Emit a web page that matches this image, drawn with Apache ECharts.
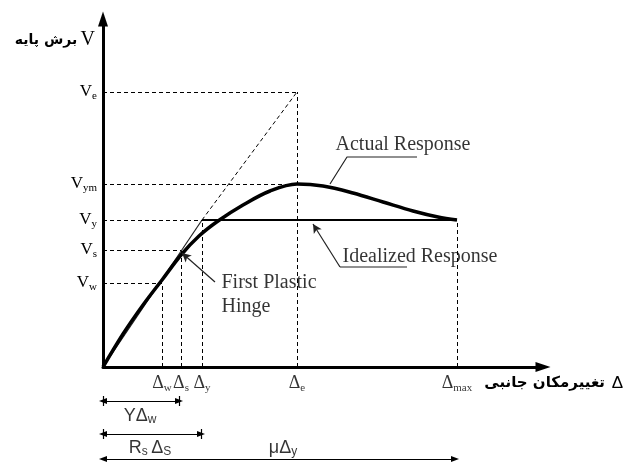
<!DOCTYPE html>
<html>
<head>
<meta charset="utf-8">
<title>pushover curve</title>
<script src="https://cdn.jsdelivr.net/npm/echarts@6/dist/echarts.min.js"></script>
<style>
  html, body { margin: 0; padding: 0; background: #fff; }
  #chart { width: 629px; height: 463px; }
</style>
</head>
<body>
<div id="chart"></div>
<script>
// actual response (capacity curve), drift vs base shear, arbitrary units
const curveX = [0, 20, 40, 59, 78, 96, 115, 140, 167, 194, 220, 250, 280, 310, 335, 354];
const curveY = [0, 33, 62, 87, 112, 131, 146, 162, 176, 183, 181, 174, 165, 156, 150, 147];

// bilinear idealization
const idealX = [0, 99, 354];
const idealY = [0, 147, 147];

// elastic extension (dashed) up to Ve
const elasticX = [99, 194];
const elasticY = [147, 275];

// tick labels
const vTicks = [84, 117, 147, 183, 275];
const vSubs = ['w', 's', 'y', 'ym', 'e'];
const vGuideEnd = [59, 78, 99, 194, 194];   // where the dashed guide meets the curve
const dTicks = [59, 78, 99, 194, 354];
const dSubs = ['w', 's', 'y', 'e', 'max'];
const dGuideTop = [84, 117, 147, 275, 147];

// dimension arrows under the axis
const dimEnd = [76, 98, 352];
const dimLevel = [-34, -67, -92];
const dimText = ['{a|Y}{a|Δ}{s|w}', '{a|R}{s|s} {a|Δ}{s|S}', '{a|μΔ}{s|y}'];
const dimTextX = [37, 47, 180];
const dimTextY = [-49, -81, -81];

// notes
const noteText = ['Actual Response', 'Idealized Response', 'First Plastic\nHinge'];
const noteX = [232, 239, 118];
const noteY = [222, 110, 72];

const actualLeader = [[314, 210], [244, 210], [227, 183]];
const idealLeader = [[304, 100], [237, 100], [210, 143]];
const hingeLeader = [[112, 85], [79, 114]];

const yTop = 348;

const serif = 'Liberation Serif';
const sans = 'Liberation Sans';
const farsi = 'DejaVu Sans';

const chart = echarts.init(document.getElementById('chart'));

const seg = (a, b) => [{ coord: a }, { coord: b }];

const dashedGuides = [];
vTicks.forEach((v, i) => dashedGuides.push(seg([0, v], [vGuideEnd[i], v])));
dTicks.forEach((d, i) => dashedGuides.push(seg([d, 0], [d, dGuideTop[i]])));
dashedGuides.push(seg([elasticX[0], elasticY[0]], [elasticX[1], elasticY[1]]));

const dimLines = dimEnd.map((e, i) => seg([0, dimLevel[i]], [e, dimLevel[i]]));
const dimTicks = [];
dimEnd.forEach((e, i) => {
  dimTicks.push(seg([0, dimLevel[i] - 5], [0, dimLevel[i] + 5]));
  dimTicks.push(seg([e, dimLevel[i] - 5], [e, dimLevel[i] + 5]));
});

const plainMark = {
  silent: true,
  label: { show: false },
  emphasis: { disabled: true },
  animation: false
};

const option = {
  animation: false,
  grid: { left: 103, right: 86, top: 19, bottom: 0, outerBoundsMode: 'none', containLabel: false },
  xAxis: {
    type: 'value',
    min: 0,
    max: 440,
    splitLine: { show: false },
    axisTick: { show: false },
    axisLabel: { show: false },
    axisLine: {
      onZero: true,
      symbol: ['none', 'triangle'],
      symbolSize: [10, 15],
      lineStyle: { color: '#000', width: 3 }
    },
    name: '{fa|تغییرمکان جانبی}  {d|Δ}',
    nameLocation: 'end',
    nameGap: 80,
    nameTextStyle: {
      align: 'right',
      verticalAlign: 'top',
      padding: [8, 0, 0, 0],
      rich: {
        fa: { fontFamily: farsi, fontWeight: 'bold', fontSize: 15, color: '#000' },
        d: { fontFamily: sans, fontSize: 17, color: '#000' }
      }
    }
  },
  yAxis: {
    type: 'value',
    min: -96,
    max: yTop,
    splitLine: { show: false },
    axisTick: { show: false },
    axisLine: { show: false },
    axisLabel: {
      customValues: vTicks,
      margin: 6,
      formatter: v => '{v|V}{s|' + vSubs[vTicks.indexOf(v)] + '}',
      rich: {
        v: { fontFamily: serif, fontSize: 17, lineHeight: 20, color: '#000' },
        s: { fontFamily: serif, fontSize: 11, lineHeight: 12, verticalAlign: 'bottom', color: '#000' }
      }
    },
    name: '{fa|برش پایه} {v|V}',
    nameLocation: 'end',
    nameGap: -21,
    nameTextStyle: {
      align: 'right',
      verticalAlign: 'middle',
      padding: [0, 8, 0, 0],
      rich: {
        fa: { fontFamily: farsi, fontWeight: 'bold', fontSize: 14, color: '#000' },
        v: { fontFamily: serif, fontSize: 20, color: '#000' }
      }
    }
  },
  series: [
    {
      // dashed guides
      type: 'line',
      data: [],
      z: 2,
      markLine: Object.assign({
        symbol: ['none', 'none'],
        lineStyle: { color: '#000', width: 1, type: [4, 3] },
        data: dashedGuides
      }, plainMark)
    },
    {
      // y axis with arrow
      type: 'line',
      data: [],
      z: 3,
      markLine: Object.assign({
        symbol: ['none', 'triangle'],
        symbolSize: [10, 15],
        lineStyle: { color: '#000', width: 3, type: 'solid' },
        data: [seg([0, 0], [0, yTop])]
      }, plainMark)
    },
    {
      name: 'Idealized elastic',
      type: 'line',
      data: idealX.slice(0, 2).map((x, i) => [x, idealY[i]]),
      symbol: 'none',
      silent: true,
      z: 3,
      lineStyle: { color: '#222', width: 1.2 }
    },
    {
      name: 'Idealized plastic',
      type: 'line',
      data: idealX.slice(1).map((x, i) => [x, idealY[i + 1]]),
      symbol: 'none',
      silent: true,
      z: 3,
      lineStyle: { color: '#000', width: 2 }
    },
    {
      name: 'Actual Response',
      type: 'line',
      data: curveX.map((x, i) => [x, curveY[i]]),
      smooth: 0.35,
      symbol: 'none',
      silent: true,
      z: 4,
      lineStyle: { color: '#000', width: 3.5 }
    },
    {
      // leaders
      type: 'line',
      data: actualLeader,
      symbol: 'none',
      silent: true,
      z: 3,
      lineStyle: { color: '#222', width: 1.2 }
    },
    {
      type: 'line',
      data: idealLeader.slice(0, 2),
      symbol: 'none',
      silent: true,
      z: 3,
      lineStyle: { color: '#222', width: 1.2 },
      markLine: Object.assign({
        symbol: ['none', 'arrow'],
        symbolSize: [7, 9],
        lineStyle: { color: '#222', width: 1.2, type: 'solid' },
        data: [seg(idealLeader[1], idealLeader[2]), seg(hingeLeader[0], hingeLeader[1])]
      }, plainMark)
    },
    {
      // dimension arrows
      type: 'line',
      data: [],
      z: 3,
      markLine: Object.assign({
        symbol: ['triangle', 'triangle'],
        symbolSize: [6, 8],
        lineStyle: { color: '#000', width: 1.2, type: 'solid' },
        data: dimLines
      }, plainMark)
    },
    {
      type: 'line',
      data: [],
      z: 3,
      markLine: Object.assign({
        symbol: ['none', 'none'],
        lineStyle: { color: '#000', width: 1.2, type: 'solid' },
        data: dimTicks
      }, plainMark)
    },
    {
      // drift tick labels, hung under the zero line
      type: 'scatter',
      symbolSize: 1,
      silent: true,
      itemStyle: { color: 'rgba(0,0,0,0)' },
      data: dTicks.map((d, i) => ({ value: [d, 0], name: '{d|Δ}{s|' + dSubs[i] + '}' })),
      label: {
        show: true,
        position: 'bottom',
        distance: 6,
        formatter: p => p.name,
        rich: {
          d: { fontFamily: serif, fontSize: 18, lineHeight: 20, color: '#000' },
          s: { fontFamily: serif, fontSize: 11, lineHeight: 12, verticalAlign: 'bottom', color: '#000' }
        }
      }
    },
    {
      // notes
      type: 'scatter',
      symbolSize: 1,
      silent: true,
      itemStyle: { color: 'rgba(0,0,0,0)' },
      data: noteText.map((t, i) => ({ value: [noteX[i], noteY[i]], name: t })),
      label: {
        show: true,
        position: 'right',
        distance: 0,
        align: 'left',
        formatter: p => p.name,
        fontFamily: serif,
        fontSize: 20,
        lineHeight: 24,
        color: '#000'
      }
    },
    {
      // dimension labels
      type: 'scatter',
      symbolSize: 1,
      silent: true,
      itemStyle: { color: 'rgba(0,0,0,0)' },
      data: dimText.map((t, i) => ({ value: [dimTextX[i], dimTextY[i]], name: t })),
      label: {
        show: true,
        position: 'inside',
        formatter: p => p.name,
        rich: {
          a: { fontFamily: sans, fontSize: 18, lineHeight: 20, color: '#000' },
          s: { fontFamily: sans, fontSize: 12, lineHeight: 12, verticalAlign: 'bottom', color: '#000' }
        }
      }
    }
  ]
};

chart.setOption(option);
window.addEventListener('resize', () => chart.resize());
</script>
</body>
</html>
